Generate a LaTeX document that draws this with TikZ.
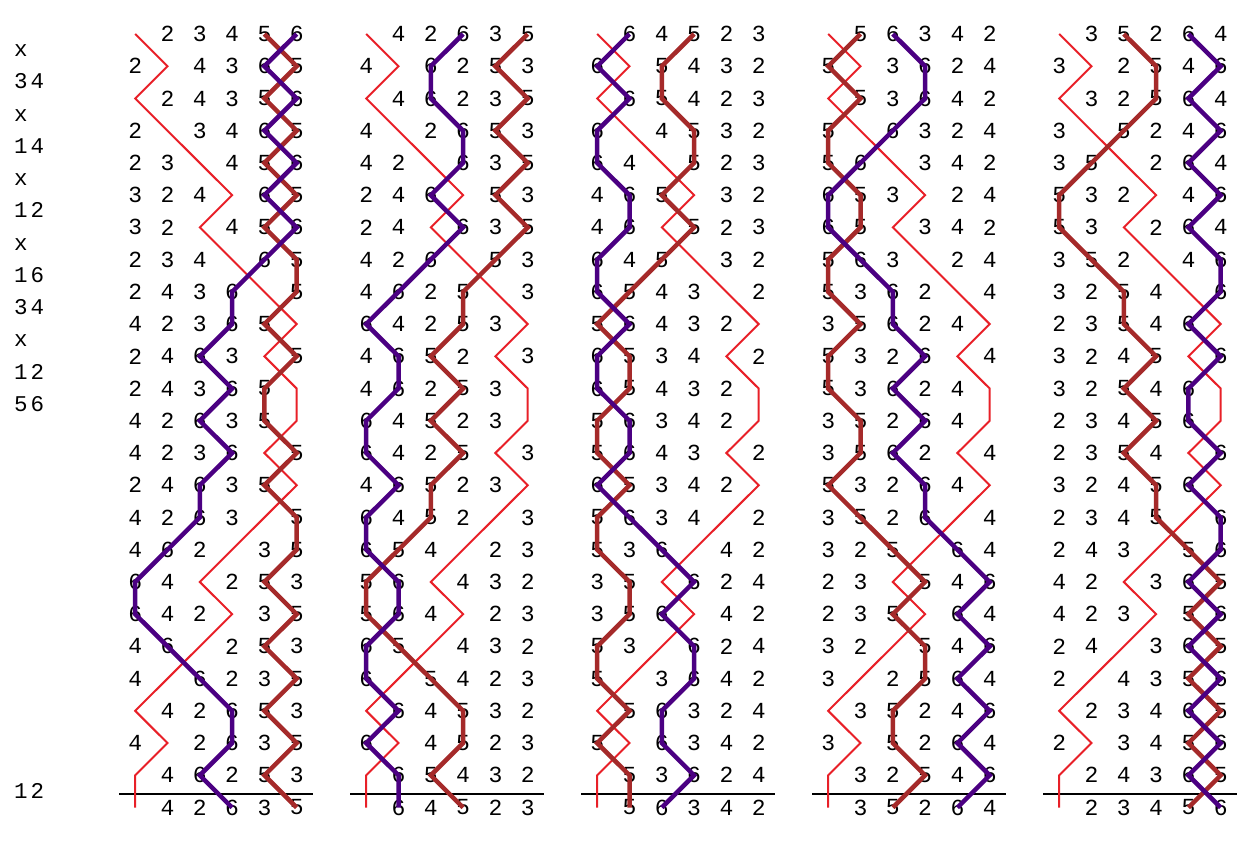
\documentclass[tikz,border=0pt]{standalone}
\usepackage{fontspec}
\setmonofont{Liberation Mono}
\newfontfamily\labfont[LetterSpace=13]{Liberation Mono}
\definecolor{bellred}{RGB}{232,32,40}
\definecolor{bellpurple}{RGB}{75,0,130}
\definecolor{bellbrown}{RGB}{165,42,42}
\def\rows{{1,2,3,4,5,6},{2,1,4,3,6,5},{1,2,4,3,5,6},{2,1,3,4,6,5},{2,3,1,4,5,6},{3,2,4,1,6,5},{3,2,1,4,5,6},{2,3,4,1,6,5},{2,4,3,6,1,5},{4,2,3,6,5,1},{2,4,6,3,1,5},{2,4,3,6,5,1},{4,2,6,3,5,1},{4,2,3,6,1,5},{2,4,6,3,5,1},{4,2,6,3,1,5},{4,6,2,1,3,5},{6,4,1,2,5,3},{6,4,2,1,3,5},{4,6,1,2,5,3},{4,1,6,2,3,5},{1,4,2,6,5,3},{4,1,2,6,3,5},{1,4,6,2,5,3},{1,4,2,6,3,5}}
\def\pA{0,1,0,1,2,3,2,3,4,5,4,5,5,4,5,4,3,2,3,2,1,0,1,0,0}
\def\pB{1,0,1,0,0,1,1,0,0,1,0,0,1,1,0,1,2,3,2,3,3,2,2,3,2}
\def\pC{2,3,3,2,1,0,0,1,2,2,3,2,3,2,3,3,4,5,4,5,4,5,4,5,4}
\def\pD{3,2,2,3,3,2,3,2,1,0,1,1,0,0,1,0,0,1,1,0,0,1,0,1,1}
\def\pE{4,5,4,5,4,5,4,5,5,4,5,4,4,5,4,5,5,4,5,4,5,4,5,4,5}
\def\pF{5,4,5,4,5,4,5,4,3,3,2,3,2,3,2,2,1,0,0,1,2,3,3,2,3}
\newcommand\bellpath[3]{% #1 column, #2 position list, #3 style
  \gdef\thebellpath{}%
  \foreach \pp [count=\rr from 0] in #2 {%
    \ifnum\rr=0 \xdef\thebellpath{(g#1-\rr-\pp)}%
    \else \xdef\thebellpath{\thebellpath\space -- (g#1-\rr-\pp)}\fi}%
  \edef\bellcmd{\noexpand\draw[#3] \thebellpath;}\bellcmd}
\begin{document}
\begin{tikzpicture}[x=1pt,y=-1pt,
  digit/.style={font=\ttfamily\fontsize{23}{23}\selectfont,inner sep=0pt,anchor=center},
  lab/.style={font=\labfont\fontsize{22.5}{22.5}\selectfont,inner sep=0pt,anchor=base west},
  redline/.style={draw=bellred,line width=2pt},
  brownline/.style={draw=bellbrown,line width=4.5pt},
  purpleline/.style={draw=bellpurple,line width=4.5pt},
  leadrule/.style={draw=black,line width=2pt}]
\useasboundingbox (0,0) rectangle (1254,847);
\foreach \lh [count=\cc from 0] in {{0,1,2,3,4,5,6},{0,1,4,2,6,3,5},{0,1,6,4,5,2,3},{0,1,5,6,3,4,2},{0,1,3,5,2,6,4}} {
  \foreach \row [count=\rr from 0] in \rows {
    \foreach \bb [count=\pp from 0] in \row {
      \coordinate (g\cc-\rr-\pp) at ({135.2+231*\cc+32.3*\pp},{34+32.23*\rr});
      \ifnum\bb>1
        \pgfmathtruncatemacro\bell{{\lh}[\bb]}
        \node[digit] (d\cc-\rr-\pp) at (g\cc-\rr-\pp) {\bell};
      \fi
    }
  }
  \coordinate (ruleL\cc) at ({135.2+231*\cc-16},794);
  \coordinate (ruleR\cc) at ({135.2+231*\cc+32.3*5+16},794);
  \draw[leadrule] (ruleL\cc) -- (ruleR\cc);
}
% bell 1 (red), bell 5 (brown), bell 6 (purple)
\bellpath{0}{\pA}{redline}\bellpath{0}{\pE}{brownline}\bellpath{0}{\pF}{purpleline}
\bellpath{1}{\pA}{redline}\bellpath{1}{\pF}{brownline}\bellpath{1}{\pD}{purpleline}
\bellpath{2}{\pA}{redline}\bellpath{2}{\pD}{brownline}\bellpath{2}{\pB}{purpleline}
\bellpath{3}{\pA}{redline}\bellpath{3}{\pB}{brownline}\bellpath{3}{\pC}{purpleline}
\bellpath{4}{\pA}{redline}\bellpath{4}{\pC}{brownline}\bellpath{4}{\pE}{purpleline}
% place notation
\foreach \t [count=\ii from 0] in {x,34,x,14,x,12,x,16,34,x,12,56} {
  \node[lab] (lab\ii) at (14,{34+32.23*(\ii+0.5)+6.6}) {\t};
}
\node[lab] (lab12) at (14,{34+32.23*23.5+6.6}) {12};
\end{tikzpicture}
\end{document}
